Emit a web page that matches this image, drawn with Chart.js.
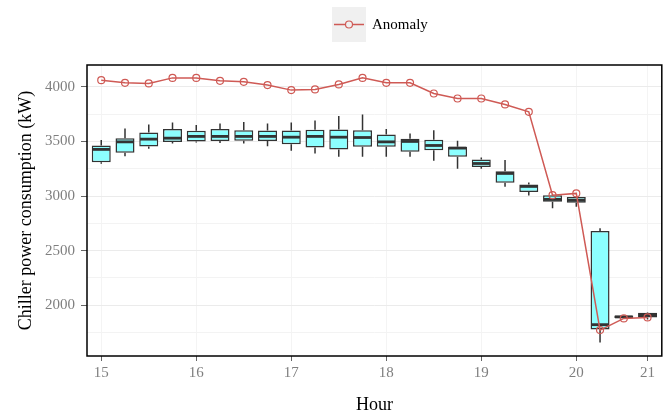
<!DOCTYPE html>
<html>
<head>
<meta charset="utf-8">
<script src="https://cdn.jsdelivr.net/npm/chart.js@4.4.1/dist/chart.umd.min.js"></script>
<style>
  html, body { margin: 0; padding: 0; background: #fff; }
  #wrap { width: 667px; height: 414px; }
</style>
</head>
<body>
<div id="wrap"><canvas id="chillerChart" width="667" height="414"></canvas></div>
<script>
// time slots (one box per slot)
const slots = [
    '15:00', '15:15', '15:30', '15:45',
    '16:00', '16:15', '16:30', '16:45',
    '17:00', '17:15', '17:30', '17:45',
    '18:00', '18:15', '18:30', '18:45',
    '19:00', '19:15', '19:30', '19:45',
    '20:00', '20:20', '20:40', '21:00'
];
const hourLabels = ['15', '16', '17', '18', '19', '20', '21'];

// box statistics, kW
const whiskerLow  = [3295, 3365, 3432, 3482, 3491, 3485, 3482, 3457, 3414, 3390, 3360, 3360,
                     3360, 3360, 3322, 3249, 3249, 3084, 3005, 2889, 2901, 1659, 1875, 1870];
const q1          = [3310, 3396, 3454, 3494, 3500, 3503, 3506, 3503, 3475, 3445, 3427, 3451,
                     3451, 3405, 3420, 3360, 3267, 3121, 3036, 2947, 2938, 1778, 1882, 1888];
const median      = [3427, 3496, 3521, 3530, 3546, 3546, 3546, 3546, 3539, 3546, 3539, 3536,
                     3496, 3500, 3463, 3439, 3298, 3207, 3088, 2969, 2961, 1822, 1893, 1910];
const q3          = [3463, 3530, 3582, 3615, 3597, 3613, 3603, 3600, 3600, 3606, 3609, 3603,
                     3564, 3524, 3515, 3451, 3335, 3228, 3106, 3008, 2990, 2679, 1905, 1930];
const whiskerHigh = [3512, 3619, 3656, 3674, 3650, 3665, 3677, 3665, 3674, 3692, 3732, 3747,
                     3615, 3573, 3603, 3506, 3353, 3329, 3124, 3015, 2995, 2706, 1908, 1935];

// anomaly run
const anomaly = [4061, 4037, 4031, 4082, 4082, 4055, 4046, 4016, 3970, 3976, 4022, 4082,
                 4037, 4037, 3939, 3893, 3893, 3839, 3771, 3008, 3024, 1772, 1879, 1888];

const yMajorTicks = [2000, 2500, 3000, 3500, 4000];
const yMinorTicks = [1750, 2250, 2750, 3250, 3750];

const serif = "'Liberation Serif', 'Times New Roman', serif";
const boxFill = '#8cffff';
const boxLine = '#333333';
const anomalyColor = '#cf5a55';
const tickGrey = '#7f7f7f';

const hourIdx = hourLabels.map(h => slots.indexOf(h + ':00'));

// whiskers + median lines for each box
const boxExtras = {
    id: 'boxExtras',
    afterDatasetDraw(chart, args) {
        if (args.meta.type !== 'bar') return;
        const y = chart.scales.y;
        const ctx = chart.ctx;
        ctx.save();
        ctx.strokeStyle = boxLine;
        args.meta.data.forEach((bar, i) => {
            const half = bar.width / 2;
            ctx.lineWidth = 1.5;
            ctx.beginPath();
            ctx.moveTo(bar.x, y.getPixelForValue(q3[i]));
            ctx.lineTo(bar.x, y.getPixelForValue(whiskerHigh[i]));
            ctx.moveTo(bar.x, y.getPixelForValue(q1[i]));
            ctx.lineTo(bar.x, y.getPixelForValue(whiskerLow[i]));
            ctx.stroke();
            const my = y.getPixelForValue(median[i]);
            ctx.lineWidth = 2.8;
            ctx.beginPath();
            ctx.moveTo(bar.x - half + 0.75, my);
            ctx.lineTo(bar.x + half - 0.75, my);
            ctx.stroke();
        });
        ctx.restore();
    }
};

// panel border and the legend key on top
const frameAndKey = {
    id: 'frameAndKey',
    afterDraw(chart) {
        const {ctx, chartArea: a} = chart;
        ctx.save();
        ctx.strokeStyle = '#000';
        ctx.lineWidth = 1.5;
        ctx.strokeRect(a.left, a.top, a.right - a.left, a.bottom - a.top);

        const ds = chart.data.datasets[0];
        const kx = 332, ky = 7, kw = 34, kh = 35;
        ctx.fillStyle = '#f0f0f0';
        ctx.fillRect(kx, ky, kw, kh);
        const cy = ky + kh / 2;
        ctx.strokeStyle = ds.borderColor;
        ctx.lineWidth = ds.borderWidth;
        ctx.beginPath();
        ctx.moveTo(kx + 2, cy);
        ctx.lineTo(kx + kw - 2, cy);
        ctx.stroke();
        ctx.fillStyle = '#f0f0f0';
        ctx.lineWidth = ds.pointBorderWidth;
        ctx.beginPath();
        ctx.arc(kx + kw / 2, cy, ds.pointRadius, 0, Math.PI * 2);
        ctx.fill();
        ctx.stroke();

        ctx.fillStyle = '#000';
        ctx.font = '15px ' + serif;
        ctx.textBaseline = 'middle';
        ctx.fillText(ds.label, kx + kw + 6, cy + 1);
        ctx.restore();
    }
};

new Chart(document.getElementById('chillerChart'), {
    data: {
        datasets: [
            {
                type: 'line',
                label: 'Anomaly',
                order: 0,
                data: anomaly.map((v, i) => ({x: i, y: v})),
                borderColor: anomalyColor,
                borderWidth: 1.5,
                pointRadius: 3.5,
                pointBorderWidth: 1.2,
                pointBorderColor: anomalyColor,
                pointBackgroundColor: 'rgba(0,0,0,0)',
                tension: 0
            },
            {
                type: 'bar',
                label: 'Power',
                order: 1,
                data: q1.map((v, i) => ({x: i, y: [v, q3[i]]})),
                backgroundColor: boxFill,
                borderColor: boxLine,
                borderWidth: 1.5,
                borderSkipped: false,
                barPercentage: 0.8,
                categoryPercentage: 1
            }
        ]
    },
    options: {
        responsive: false,
        animation: false,
        layout: { padding: { top: 65, right: 5, bottom: 0, left: 0 } },
        plugins: {
            legend: { display: false },
            tooltip: { enabled: false }
        },
        scales: {
            x: {
                type: 'linear',
                min: -0.6,
                max: slots.length - 0.4,
                offset: false,
                afterBuildTicks: axis => { axis.ticks = hourIdx.map(v => ({value: v})); },
                afterFit: axis => { axis.height = 58; },
                ticks: {
                    autoSkip: false,
                    maxRotation: 0,
                    padding: 3,
                    color: tickGrey,
                    font: { family: serif, size: 15 },
                    callback: v => hourLabels[hourIdx.indexOf(v)]
                },
                grid: { offset: false, color: '#f4f4f4', tickColor: '#666', tickLength: 5 },
                border: { display: false },
                title: {
                    display: true,
                    text: 'Hour',
                    color: '#000',
                    font: { family: serif, size: 18, lineHeight: 1 },
                    padding: { top: 0, bottom: 0 }
                }
            },
            y: {
                min: 1535,
                max: 4200,
                afterBuildTicks: axis => {
                    axis.ticks = yMajorTicks.concat(yMinorTicks).sort((a, b) => a - b).map(v => ({value: v}));
                },
                afterFit: axis => { axis.width = 87; },
                ticks: {
                    padding: 6,
                    color: tickGrey,
                    font: { family: serif, size: 15 },
                    callback: v => yMajorTicks.includes(v) ? v : ''
                },
                grid: {
                    color: c => yMajorTicks.includes(c.tick.value) ? '#ebebeb' : '#f3f3f3',
                    tickColor: c => yMajorTicks.includes(c.tick.value) ? '#666' : 'rgba(0,0,0,0)',
                    tickLength: 6
                },
                border: { display: false },
                title: {
                    display: true,
                    text: 'Chiller power consumption (kW)',
                    color: '#000',
                    font: { family: serif, size: 18 },
                    padding: { top: 15, bottom: 0 }
                }
            }
        }
    },
    plugins: [boxExtras, frameAndKey]
});
</script>
</body>
</html>
